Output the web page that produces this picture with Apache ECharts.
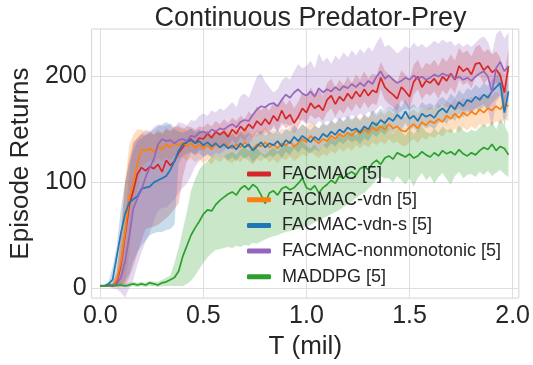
<!DOCTYPE html>
<html>
<head>
<meta charset="utf-8">
<script src="https://cdn.jsdelivr.net/npm/echarts@6/dist/echarts.min.js"></script>
<style>
html,body{margin:0;padding:0;background:#fff;}
#chart{width:533px;height:365px;}
</style>
</head>
<body>
<div id="chart"></div>
<script>
// x positions (million steps)
const T = [0,0.02,0.04,0.06,0.08,0.10,0.12,0.14,0.16,0.18,
0.20,0.22,0.24,0.26,0.28,0.30,0.32,0.34,0.36,0.38,
0.40,0.42,0.44,0.46,0.48,0.50,0.52,0.54,0.56,0.58,
0.60,0.62,0.64,0.66,0.68,0.70,0.72,0.74,0.76,0.78,
0.80,0.82,0.84,0.86,0.88,0.90,0.92,0.94,0.96,0.98,
1.00,1.02,1.04,1.06,1.08,1.10,1.12,1.14,1.16,1.18,
1.20,1.22,1.24,1.26,1.28,1.30,1.32,1.34,1.36,1.38,
1.40,1.42,1.44,1.46,1.48,1.50,1.52,1.54,1.56,1.58,
1.60,1.62,1.64,1.66,1.68,1.70,1.72,1.74,1.76,1.78,
1.80,1.82,1.84,1.86,1.88,1.90,1.92,1.94,1.96,1.98];

const xTicks = [0, 0.5, 1.0, 1.5, 2.0];
const yTicks = [0, 100, 200];

const names = ["FACMAC [5]","FACMAC-vdn [5]","FACMAC-vdn-s [5]","FACMAC-nonmonotonic [5]","MADDPG [5]"];

// FACMAC
const facmacMean = [2,2,3,2,5,22,50,78,92,108,
114,111,115,113,117,110,121,116,120,128,
133,138,141,137,142,141,146,142,148,145,
148,143,150,146,153,149,155,151,158,154,
160,155,163,158,168,160,164,156,162,170,
166,175,170,173,168,178,182,174,181,177,
184,179,186,181,188,182,187,185,199,190,
186,183,179,190,186,181,195,200,190,196,
194,198,192,200,196,203,197,210,205,208,
202,212,213,206,210,204,207,201,185,210];
const facmacUp = [3,3,4,4,15,53,100,122,137,142,
146,144,147,145,148,146,150,148,152,154,
150,153,152,150,153,152,156,153,158,155,
160,156,161,158,163,160,167,163,172,168,
172,168,176,171,180,173,178,170,176,185,
180,190,184,188,182,194,198,190,197,192,
200,194,202,197,205,198,203,201,214,206,
202,199,195,206,202,197,211,216,207,213,
211,216,210,218,214,221,215,227,222,225,
219,228,230,223,226,221,224,218,202,227];
const facmacLo = [1,1,1,1,1,2,2,10,20,33,
45,56,57,58,60,63,66,70,75,80,
105,120,128,126,131,130,134,132,137,133,
138,134,140,136,143,139,145,141,148,144,
150,145,154,148,157,151,154,146,152,160,
156,164,160,162,158,166,170,162,169,165,
172,167,174,169,176,170,175,173,188,178,
174,171,167,178,174,169,183,188,178,184,
182,186,179,187,183,190,184,197,192,195,
189,200,201,193,198,191,194,188,172,197];

// FACMAC-vdn
const vdnMean = [2,2,2,3,8,25,52,85,100,118,
131,130,132,129,134,131,136,133,137,135,
138,134,137,133,136,132,135,131,136,133,
137,134,132,136,133,138,134,131,136,134,
138,133,136,132,137,135,139,134,137,141,
138,144,140,137,141,139,144,141,146,143,
147,144,149,146,150,147,152,149,153,150,
155,151,153,149,148,152,155,151,157,154,
158,156,160,157,163,160,165,161,166,163,
167,164,169,166,170,168,172,169,174,172];
const vdnUp = [3,3,3,5,15,45,100,135,145,150,
150,147,149,145,150,147,152,149,153,151,
152,148,151,147,150,146,149,145,150,147,
151,148,146,150,147,152,148,145,150,148,
152,147,150,146,151,149,153,148,151,155,
152,158,154,151,155,153,158,155,160,157,
161,158,163,160,164,161,166,163,167,164,
169,165,167,163,162,166,169,165,171,168,
172,170,174,171,177,174,179,175,180,177,
181,178,183,180,184,182,186,183,188,186];
const vdnLo = [1,1,1,1,1,2,5,30,75,92,
115,118,121,118,123,120,124,121,125,123,
124,120,123,119,122,118,121,117,122,119,
123,120,118,122,119,124,120,117,122,120,
124,119,122,118,123,121,125,120,123,127,
124,130,126,123,127,125,130,127,132,129,
133,130,135,132,136,133,138,135,139,136,
141,137,139,135,134,138,141,137,143,140,
144,142,146,143,149,146,151,147,152,149,
153,150,155,152,156,154,158,155,160,158];

// FACMAC-vdn-s
const vdnsMean = [2,2,4,8,30,52,70,81,84,87,
94,95,96,100,102,104,106,112,120,130,
136,138,140,137,139,135,138,134,137,133,
136,132,135,131,137,133,136,130,134,138,
133,137,135,139,134,140,137,143,139,144,
141,138,143,140,146,143,148,145,150,147,
152,149,151,147,153,150,157,154,159,156,
161,158,164,160,167,160,163,158,165,162,
164,161,167,170,166,173,169,176,172,178,
176,181,178,183,180,186,190,194,166,186];
const vdnsUp = [3,3,6,20,40,75,100,118,130,139,
142,145,147,150,153,155,157,154,150,148,
147,149,151,148,150,146,149,145,148,144,
147,143,146,142,148,144,147,141,145,149,
144,148,146,150,145,151,148,154,150,155,
152,149,154,151,157,154,159,156,161,158,
163,160,162,158,164,161,168,165,170,167,
172,169,175,171,178,171,174,169,176,173,
175,172,178,181,177,184,180,187,183,189,
187,192,189,194,191,197,201,205,180,197];
const vdnsLo = [1,1,1,2,2,3,7,13,26,34,
40,45,50,52,53,53,55,56,60,118,
125,127,129,126,128,124,127,123,126,122,
125,121,124,120,126,122,125,119,123,127,
122,126,124,128,123,129,126,132,128,133,
130,127,132,129,135,132,137,134,139,136,
141,138,140,136,142,139,146,143,148,145,
150,147,153,149,156,149,152,147,154,151,
153,150,156,159,155,162,158,165,161,167,
165,170,167,172,169,175,179,183,152,175];

// FACMAC-nonmonotonic
const nonmonoMean = [2,2,2,3,4,10,25,48,75,85,
93,105,114,122,136,141,139,140,137,140,
141,139,144,143,147,148,146,150,148,151,
150,153,155,152,157,159,158,164,169,172,
171,174,175,172,178,183,180,185,188,184,
182,186,181,189,185,188,186,190,187,191,
189,193,190,194,191,196,193,200,205,198,
201,197,194,196,199,197,201,198,200,197,
199,202,200,203,201,202,198,200,197,199,
196,200,203,205,200,185,208,214,205,210];
const nonmonoUp = [3,3,3,4,6,20,60,110,138,142,
146,150,148,152,155,153,154,156,152,157,
156,154,159,158,163,165,163,168,166,170,
168,172,176,171,182,184,180,190,200,203,
195,190,185,188,196,200,197,205,212,208,
210,215,208,222,214,218,212,220,216,223,
218,225,220,226,222,228,224,232,238,228,
230,226,222,225,229,226,232,228,231,227,
230,234,231,235,232,234,229,232,228,231,
228,232,236,238,233,222,240,244,236,242];
const nonmonoLo = [1,1,1,0,-1,-4,-9,0,8,22,
34,44,52,64,73,76,76,80,84,90,
95,99,106,115,120,124,126,125,128,127,
130,133,135,132,137,139,136,142,144,147,
146,149,151,147,153,156,153,158,160,158,
155,157,153,158,156,158,157,161,158,162,
160,164,161,165,162,167,164,169,173,167,
171,167,165,167,170,168,172,169,171,168,
169,172,170,173,171,172,168,170,167,169,
166,170,172,174,169,152,176,182,174,178];

// MADDPG
const maddpgMean = [2,2,3,2,3,3,2,3,4,3,
4,3,5,4,3,5,6,8,10,16,
30,40,50,57,63,70,74,73,79,83,
86,89,91,88,94,97,93,98,95,88,
80,90,92,88,94,96,93,95,99,104,
95,93,97,90,95,98,102,99,106,104,
108,110,107,113,115,112,118,121,117,123,
125,122,128,126,124,127,123,125,129,126,
124,128,125,130,127,129,126,131,127,125,
128,126,130,133,131,136,130,134,132,126];
const maddpgUp = [4,4,5,4,5,5,4,5,6,5,
6,5,7,6,6,8,10,12,24,38,
55,72,92,103,112,117,120,124,126,122,
125,127,129,126,131,133,130,134,132,128,
126,130,133,129,134,136,133,135,138,140,
134,132,136,130,135,138,142,139,145,141,
146,148,144,150,152,149,155,157,152,158,
150,146,152,148,144,150,146,149,153,148,
146,151,147,153,149,151,146,154,149,147,
150,148,152,155,152,158,150,160,154,146];
const maddpgLo = [1,1,1,1,1,1,1,1,2,1,
2,1,2,2,1,2,2,2,2,2,
2,4,7,12,18,24,29,33,36,37,
38,39,38,40,39,41,40,43,42,44,
46,48,49,50,52,53,54,55,56,57,
58,60,62,64,66,68,70,72,74,77,
79,82,85,88,90,94,98,103,106,104,
104,100,106,102,98,104,96,104,109,102,
106,99,105,109,103,98,106,110,104,107,
108,105,110,107,111,106,109,112,108,105];

const colors = ['#d62728','#ff7f0e','#1f77b4','#9467bd','#2ca02c'];
const fills = ['rgba(214,39,40,0.25)','rgba(255,127,14,0.25)','rgba(31,119,180,0.25)','rgba(148,103,189,0.25)','rgba(44,160,44,0.25)'];
const means = [facmacMean, vdnMean, vdnsMean, nonmonoMean, maddpgMean];
const ups = [facmacUp, vdnUp, vdnsUp, nonmonoUp, maddpgUp];
const los = [facmacLo, vdnLo, vdnsLo, nonmonoLo, maddpgLo];

const series = [];
for (let k = 0; k < 5; k++) {
  const lo = los[k], up = ups[k];
  series.push({
    name: 'band' + k, type: 'custom', silent: true, z: 1,
    data: T.map((t, i) => [t, lo[i], up[i]]),
    encode: { x: 0, y: [1, 2] },
    renderItem: function (params, api) {
      if (params.dataIndex !== 0) return null;
      const pts = [];
      for (let i = 0; i < T.length; i++) pts.push(api.coord([T[i], up[i]]));
      for (let i = T.length - 1; i >= 0; i--) pts.push(api.coord([T[i], lo[i]]));
      return { type: 'polygon', shape: { points: pts }, style: { fill: fills[k], stroke: null } };
    }
  });
}
for (let k = 0; k < 5; k++) {
  series.push({
    name: names[k], type: 'line', data: T.map((t, i) => [t, means[k][i]]), symbol: 'none', z: 2,
    itemStyle: { color: colors[k] },
    lineStyle: { color: colors[k], width: 1.7 }
  });
}

const FONT = 'Liberation Sans, Arial, sans-serif';
const TXT = '#262626';
const chart = echarts.init(document.getElementById('chart'), null, { renderer: 'canvas' });
chart.setOption({
  animation: false,
  backgroundColor: '#ffffff',
  textStyle: { fontFamily: FONT },
  title: {
    text: 'Continuous Predator-Prey', left: 305.5, top: 0, textAlign: 'center',
    textStyle: { fontSize: 27, fontWeight: 'normal', color: TXT, fontFamily: FONT }
  },
  grid: { left: 90, right: 12, top: 29, bottom: 66, show: true, borderColor: '#d4d4d4', borderWidth: 1 },
  legend: {
    data: names, orient: 'vertical', left: 247, top: 165, padding: 0,
    itemWidth: 24, itemHeight: 5, itemGap: 7.7, icon: 'roundRect',
    textStyle: { fontSize: 18, lineHeight: 18, color: TXT, fontFamily: FONT, padding: [0, 0, 0, 6] }
  },
  xAxis: {
    type: 'value', min: -0.042, max: 2.03,
    name: 'T (mil)', nameLocation: 'middle', nameGap: 34,
    nameTextStyle: { fontSize: 26, color: TXT, fontFamily: FONT },
    axisLine: { show: false }, axisTick: { show: false, customValues: xTicks },
    axisLabel: { customValues: xTicks, fontSize: 25, color: TXT, margin: 6, fontFamily: FONT,
      formatter: v => v.toFixed(1) },
    splitLine: { show: true, lineStyle: { color: '#dedede', width: 1 } }
  },
  yAxis: {
    type: 'value', min: -9.4, max: 245,
    name: 'Episode Returns', nameLocation: 'middle', nameGap: 50,
    nameTextStyle: { fontSize: 26, color: TXT, fontFamily: FONT },
    axisLine: { show: false }, axisTick: { show: false, customValues: yTicks },
    axisLabel: { customValues: yTicks, fontSize: 25, color: TXT, margin: 5, fontFamily: FONT },
    splitLine: { show: true, lineStyle: { color: '#dedede', width: 1 } }
  },
  series: series
});
</script>
</body>
</html>
